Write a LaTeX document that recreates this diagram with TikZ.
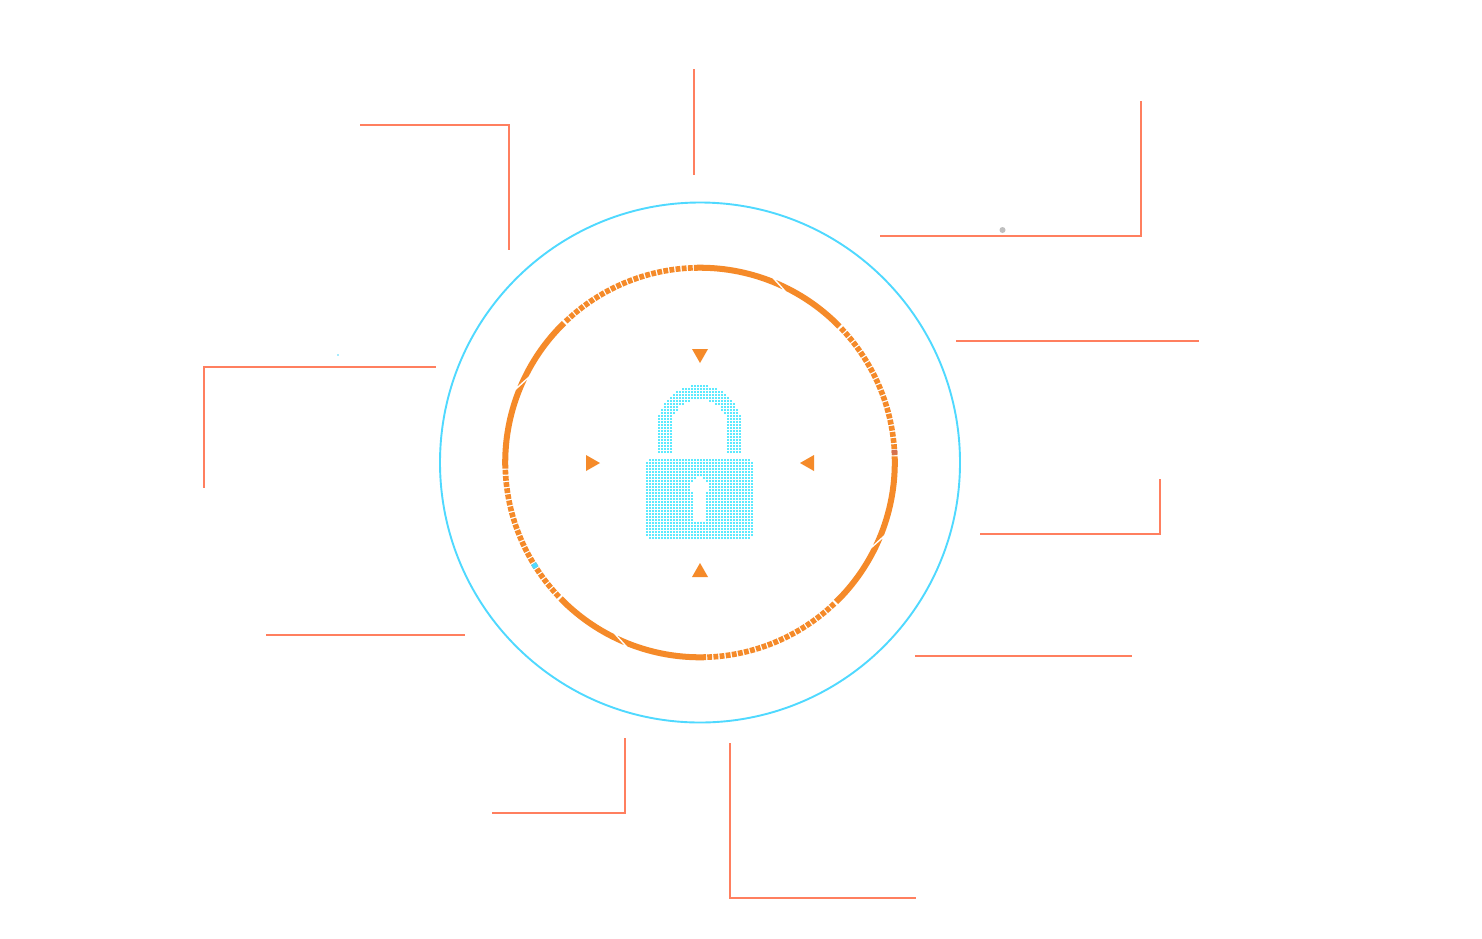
\documentclass[tikz,border=0pt]{standalone}
\definecolor{leader}{HTML}{FF7F5F}
\definecolor{ringblue}{HTML}{4FD9FF}
\definecolor{ringorange}{HTML}{F58A29}
\definecolor{lockblue}{HTML}{5CEAFF}
\definecolor{dashbrown}{HTML}{D4704F}
\tikzset{
  leaderline/.style={draw=leader,line width=2pt},
  marker/.style={fill=ringorange,draw=none},
  lockdot/.style={fill=lockblue,draw=none},
  ringdash/.style={draw=ringorange,line width=5.6pt}
}
\newcommand\lockcell[2]{\fill[lockdot] (#1-1.1,#2-1.1) rectangle (#1+1.1,#2+1.1);}
\begin{document}
\begin{tikzpicture}[x=1pt,y=-1pt]
\useasboundingbox[fill=white] (0,0) rectangle (1482,938);
% outer circle
\coordinate (c) at (700,462.5);
\draw[ringblue,line width=1.9pt] (c) circle[radius=260pt];
% leader lines
\coordinate (a1) at (360,125); \coordinate (a2) at (509,125); \coordinate (a3) at (509,250);
\draw[leaderline] (a1) -- (a2) -- (a3);
\coordinate (b1) at (694,69); \coordinate (b2) at (694,175);
\draw[leaderline] (b1) -- (b2);
\coordinate (d1) at (1141,101); \coordinate (d2) at (1141,236); \coordinate (d3) at (880,236);
\draw[leaderline] (d1) -- (d2) -- (d3);
\coordinate (e1) at (956,341); \coordinate (e2) at (1199,341);
\draw[leaderline] (e1) -- (e2);
\coordinate (f1) at (1160,479); \coordinate (f2) at (1160,534); \coordinate (f3) at (980,534);
\draw[leaderline] (f1) -- (f2) -- (f3);
\coordinate (g1) at (915,656); \coordinate (g2) at (1132,656);
\draw[leaderline] (g1) -- (g2);
\coordinate (h1) at (730,743); \coordinate (h2) at (730,898); \coordinate (h3) at (916,898);
\draw[leaderline] (h1) -- (h2) -- (h3);
\coordinate (k1) at (625,738); \coordinate (k2) at (625,813); \coordinate (k3) at (492,813);
\draw[leaderline] (k1) -- (k2) -- (k3);
\coordinate (m1) at (266,635); \coordinate (m2) at (465,635);
\draw[leaderline] (m1) -- (m2);
\coordinate (n1) at (435.5,367); \coordinate (n2) at (204,367); \coordinate (n3) at (204,488);
\draw[leaderline] (n1) -- (n2) -- (n3);
% specks
\fill[black!25] (1002.5,230) circle[radius=3pt];
\fill[ringblue] (338,355) circle[radius=0.8pt];
% orange ring, four quadrants
\foreach \rot in {0,90,180,270}{
\begin{scope}[shift={(c)},rotate=\rot]
  \fill[ringorange] (91.8:197.8pt) arc[start angle=91.8,end angle=68.5,radius=197.8pt]
     -- (64.6:191.8pt) arc[start angle=64.6,end angle=91.8,radius=191.8pt] -- cycle;
  \fill[ringorange] (67.3:197.8pt) arc[start angle=67.3,end angle=44.3,radius=197.8pt]
     -- (44.3:191.8pt) arc[start angle=44.3,end angle=63.3,radius=191.8pt] -- cycle;
  \foreach \i in {0,...,22}{
    \pgfmathsetmacro\da{43.6-1.82*\i}
    \pgfmathsetmacro\db{\da-1.42}
    \draw[ringdash] (\da:194.8pt) arc[start angle=\da,end angle=\db,radius=194.8pt];
  }
\end{scope}}
% coloured dashes
\begin{scope}[shift={(c)}]
  \draw[ringdash,draw=dashbrown] (3.74:194.8pt) arc[start angle=3.74,end angle=2.32,radius=194.8pt];
  \draw[ringdash,draw=ringblue] (212.68:194.8pt) arc[start angle=212.68,end angle=211.26,radius=194.8pt];
\end{scope}
% triangles
\fill[marker] (692,349) -- (708,349) -- (700,363) -- cycle;
\fill[marker] (692,577) -- (708,577) -- (700,563) -- cycle;
\fill[marker] (586,455) -- (586,471) -- (600,463) -- cycle;
\fill[marker] (814,455) -- (814,471) -- (800,463) -- cycle;
% padlock body
\foreach \i in {0,...,35}{
  \foreach \j in {0,...,26}{
    \pgfmathsetmacro\px{647+3*\i}
    \pgfmathsetmacro\py{460+3*\j}
    \pgfmathsetmacro\hole{or(or(veclen(\px-699.5,\py-487)<9.5, and(abs(\px-699.5)<5.5, and(\py>487,\py<521))),
       and(or(\i==0,\i==35),or(\j==0,\j==26)))}
    \ifnum\hole=0 \lockcell{\px}{\py}\fi
  }
}
% padlock shackle
\foreach \i in {0,...,27}{
  \foreach \j in {0,...,22}{
    \pgfmathsetmacro\px{659+3*\i}
    \pgfmathsetmacro\py{386+3*\j}
    \pgfmathsetmacro\keep{\py>=427 ? and(abs(\px-699.5)>27.5,abs(\px-699.5)<42) : and(veclen(\px-699.5,\py-427)>28,veclen(\px-699.5,\py-427)<42)}
    \ifnum\keep=1 \lockcell{\px}{\py}\fi
  }
}
\end{tikzpicture}
\end{document}
